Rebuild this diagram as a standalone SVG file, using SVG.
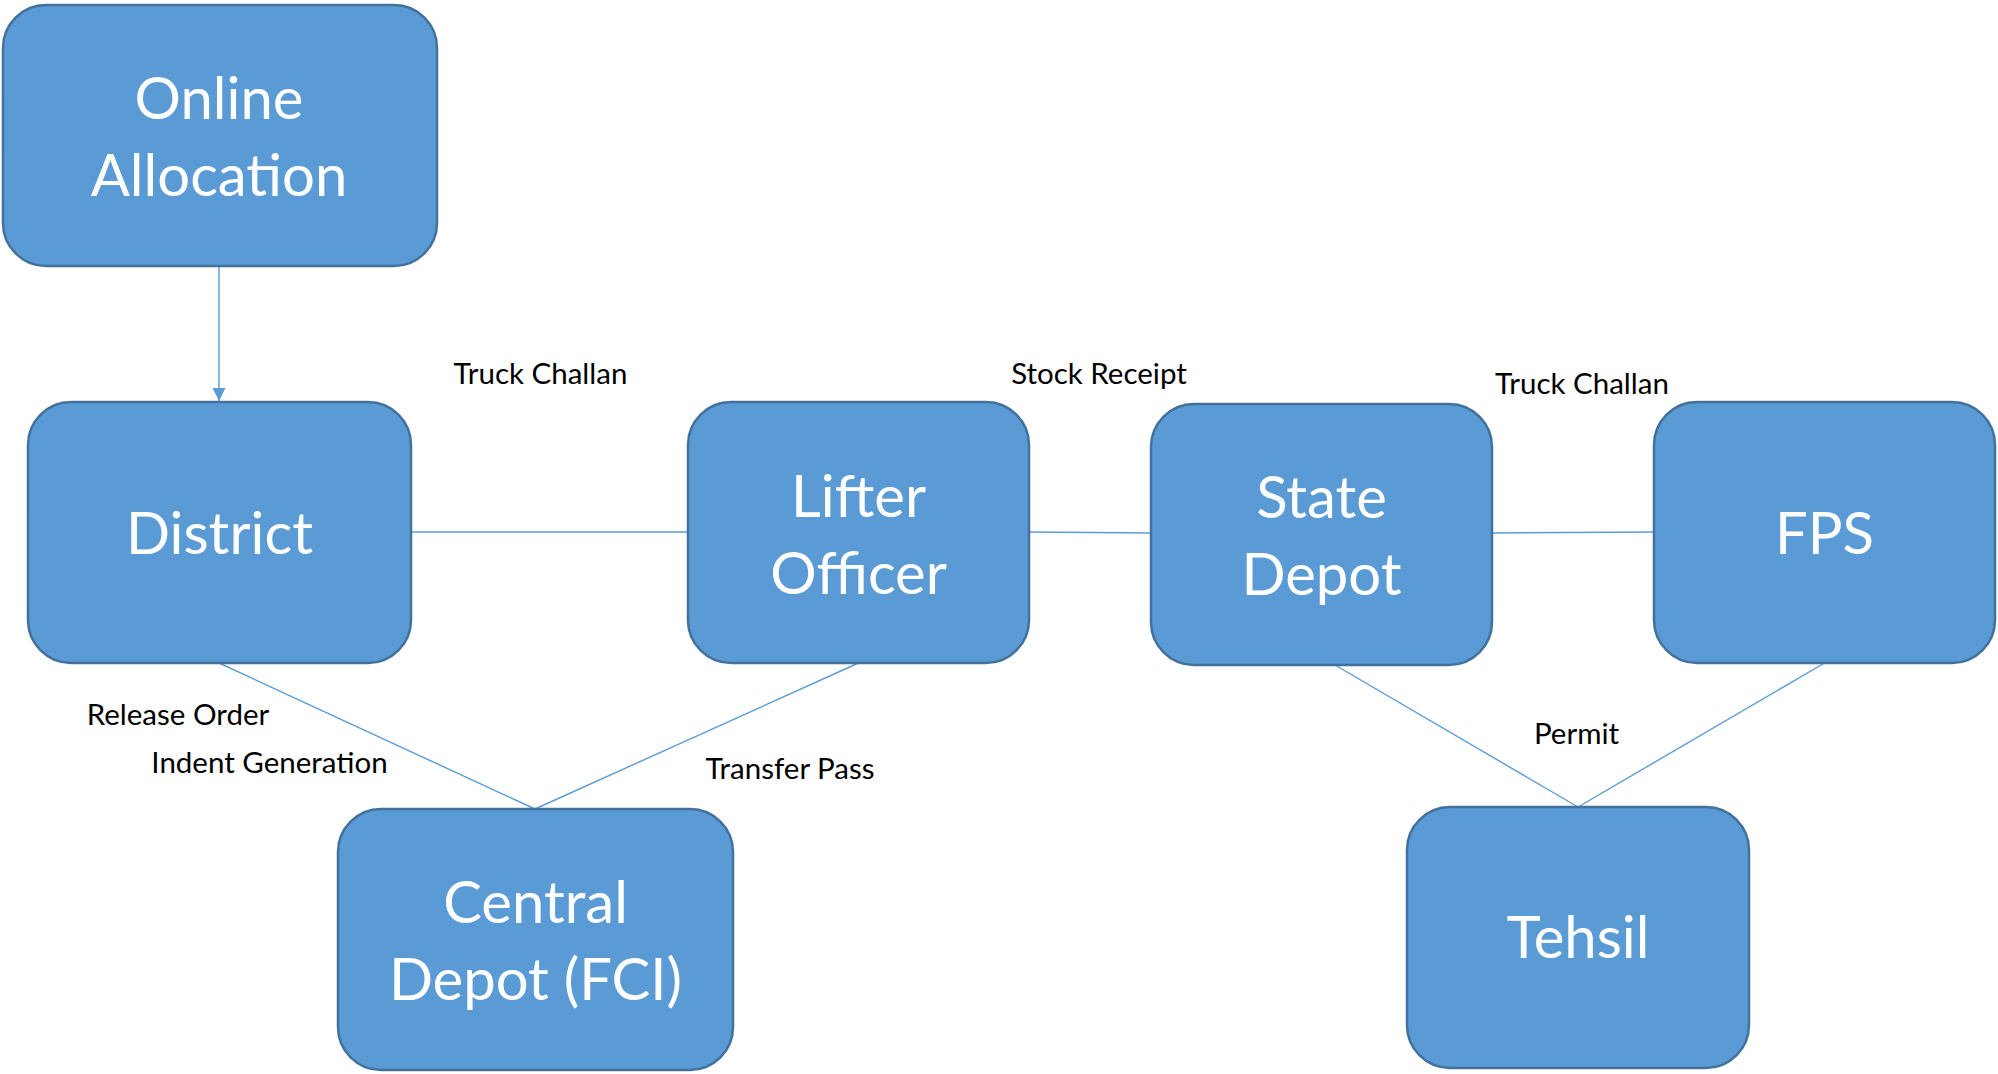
<svg xmlns="http://www.w3.org/2000/svg" width="1998" height="1074" viewBox="0 0 1998 1074">
<style>
.box{fill:#5B9BD5;stroke:#41719C;stroke-width:2.5}
.big{font-family:Lato,"Open Sans","Liberation Sans",sans-serif;font-size:58px;fill:#FFFFFF;text-anchor:middle}
.lbl{font-family:Lato,"Open Sans","Liberation Sans",sans-serif;font-size:29.5px;fill:#000000;text-anchor:middle}
.con{stroke:#5B9BD5;stroke-width:1.4;fill:none}
</style>
<defs>
<marker id="arr" viewBox="0 0 10 10" refX="10" refY="5" markerWidth="13" markerHeight="13" markerUnits="userSpaceOnUse" orient="auto">
<path d="M0,0 L10,5 L0,10 Z" fill="#5B9BD5"/>
</marker>
</defs>
<rect width="1998" height="1074" fill="#FFFFFF"/>
<g id="connectors">
<line class="con" x1="219" y1="266" x2="219" y2="401" marker-end="url(#arr)"/>
<line class="con" x1="411" y1="532" x2="688" y2="532"/>
<line class="con" x1="1029" y1="532" x2="1151" y2="533"/>
<line class="con" x1="1492" y1="533" x2="1654" y2="532"/>
<line class="con" x1="219" y1="663" x2="535" y2="809"/>
<line class="con" x1="858.5" y1="663" x2="535" y2="809"/>
<line class="con" x1="1335" y1="665" x2="1578" y2="807"/>
<line class="con" x1="1824.5" y1="663" x2="1578" y2="807"/>
</g>
<g id="labels">
<text class="lbl" x="540.5" y="384">Truck Challan</text>
<text class="lbl" x="1099" y="384">Stock Receipt</text>
<text class="lbl" x="1582" y="394">Truck Challan</text>
<text class="lbl" x="178" y="725">Release Order</text>
<text class="lbl" x="269.5" y="773">Indent Generation</text>
<text class="lbl" x="790" y="779">Transfer Pass</text>
<text class="lbl" x="1576.5" y="744">Permit</text>
</g>
<g id="online-allocation">
<rect class="box" x="3" y="5" width="434" height="261" rx="43" ry="43"/>
<text class="big" x="219" y="119">Online</text>
<text class="big" x="219" y="196">Allocation</text>
</g>
<g id="district">
<rect class="box" x="28" y="402" width="383" height="261" rx="43" ry="43"/>
<text class="big" x="219.5" y="554">District</text>
</g>
<g id="lifter-officer">
<rect class="box" x="688" y="402" width="341" height="261" rx="43" ry="43"/>
<text class="big" x="858.5" y="517">Lifter</text>
<text class="big" x="858.5" y="594">Officer</text>
</g>
<g id="state-depot">
<rect class="box" x="1151" y="404" width="341" height="261" rx="43" ry="43"/>
<text class="big" x="1321.5" y="518">State</text>
<text class="big" x="1321.5" y="595">Depot</text>
</g>
<g id="fps">
<rect class="box" x="1654" y="402" width="341" height="261" rx="43" ry="43"/>
<text class="big" x="1824.5" y="554">FPS</text>
</g>
<g id="central-depot">
<rect class="box" x="338" y="809" width="395" height="261" rx="43" ry="43"/>
<text class="big" x="535.5" y="923">Central</text>
<text class="big" x="535.5" y="1000">Depot (FCI)</text>
</g>
<g id="tehsil">
<rect class="box" x="1407" y="807" width="342" height="261" rx="43" ry="43"/>
<text class="big" x="1578" y="958">Tehsil</text>
</g>
</svg>
